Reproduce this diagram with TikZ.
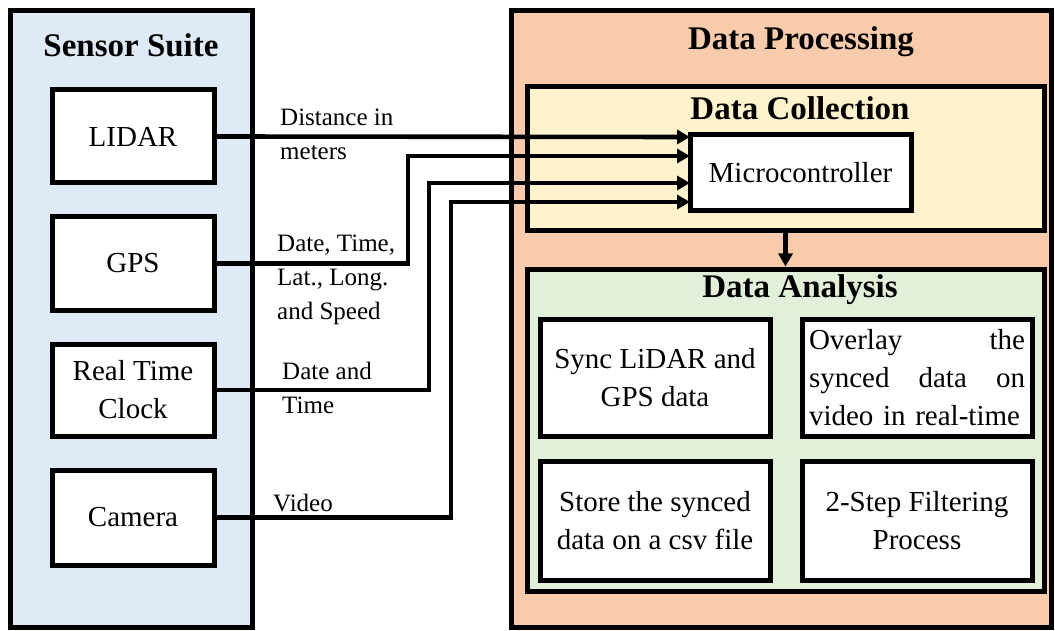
\documentclass[tikz,border=0pt]{standalone}
\usepackage{fontspec}
\setmainfont{Liberation Serif}
\usetikzlibrary{arrows.meta}
\definecolor{suiteblue}{HTML}{DEEBF7}
\definecolor{procorange}{HTML}{F8CBAD}
\definecolor{collyellow}{HTML}{FFF2CC}
\definecolor{anagreen}{HTML}{E2F0D9}
\tikzset{
  groupbox/.style={draw, line width=5pt, inner sep=0pt},
  blockbox/.style={draw, fill=white, line width=5pt, inner sep=2pt, align=center,
    font=\fontsize{29}{38}\selectfont},
  grouptitle/.style={anchor=base, inner sep=0pt, font=\fontsize{33}{38}\selectfont\bfseries},
  lab/.style={anchor=base west, inner sep=0pt, align=left, font=\fontsize{25}{34}\selectfont},
  conn/.style={line width=4.6pt},
  arr/.style={conn, -{Triangle[length=13pt,width=14pt]}}
}
\begin{document}
\begin{tikzpicture}[x=1pt,y=-1pt]
\useasboundingbox (0,0) rectangle (1055,631);
% groups
\node[groupbox, fill=suiteblue, minimum width=242pt, minimum height=616pt] (suite) at (131,319) {};
\node[groupbox, fill=procorange, minimum width=540pt, minimum height=616pt] (proc) at (781,319) {};
\node[groupbox, fill=collyellow, minimum width=517pt, minimum height=144pt] (coll) at (785.5,159) {};
\node[groupbox, fill=anagreen, minimum width=517pt, minimum height=322pt] (ana) at (785.5,430) {};
% titles
\node[grouptitle] (suitetitle) at (131,57) {Sensor Suite};
\node[grouptitle] (proctitle) at (801,50) {Data Processing};
\node[grouptitle] (colltitle) at (800,120) {Data Collection};
\node[grouptitle] (anatitle) at (800,297) {Data Analysis};
% sensors
\node[blockbox, minimum width=162pt, minimum height=93pt] (lidar) at (133,136.5) {LIDAR};
\node[blockbox, minimum width=162pt, minimum height=93pt] (gps) at (133,263.5) {GPS};
\node[blockbox, minimum width=162pt, minimum height=92pt] (rtc) at (133,390) {Real Time\\Clock};
\node[blockbox, minimum width=162pt, minimum height=95pt] (cam) at (133,517.5) {Camera};
% processing
\node[blockbox, minimum width=221pt, minimum height=76pt] (micro) at (800.5,173) {Microcontroller};
\node[blockbox, minimum width=230pt, minimum height=117pt] (sync) at (655,377.5) {Sync LiDAR and\\GPS data};
\node[blockbox, minimum width=230pt, minimum height=117pt, text width=216pt, align=left] (overlay) at (917,377.5)
  {\makebox[216pt][l]{Overlay\hfill the}\\\makebox[216pt][l]{synced\hfill data\hfill on}\\video in real-time};
\node[blockbox, minimum width=230pt, minimum height=119pt] (store) at (655,520.5) {Store the synced\\data on a csv file};
\node[blockbox, minimum width=230pt, minimum height=119pt] (filter) at (917,520.5) {2-Step Filtering\\Process};
% entry points on the microcontroller
\coordinate (m1) at (690,137);
\coordinate (m2) at (690,156);
\coordinate (m3) at (690,183);
\coordinate (m4) at (690,202);
% connectors
\draw[arr] (lidar.east) -- (m1);
\draw[arr] (gps.east) -| (408,156) -- (m2);
\draw[arr] (rtc.east) -| (429,183) -- (m3);
\draw[arr] (cam.east) -| (451,202) -- (m4);
\draw[arr] (coll.south) -- (ana.north);
% labels (base = baseline of the last line)
\node[lab] (l1) at (280,160) {Distance in\\meters};
\node[lab] (l2) at (277,319) {Date, Time,\\Lat., Long.\\and Speed};
\node[lab] (l3) at (282,413) {Date and\\Time};
\node[lab] (l4) at (273,511) {Video};
\end{tikzpicture}
\end{document}
